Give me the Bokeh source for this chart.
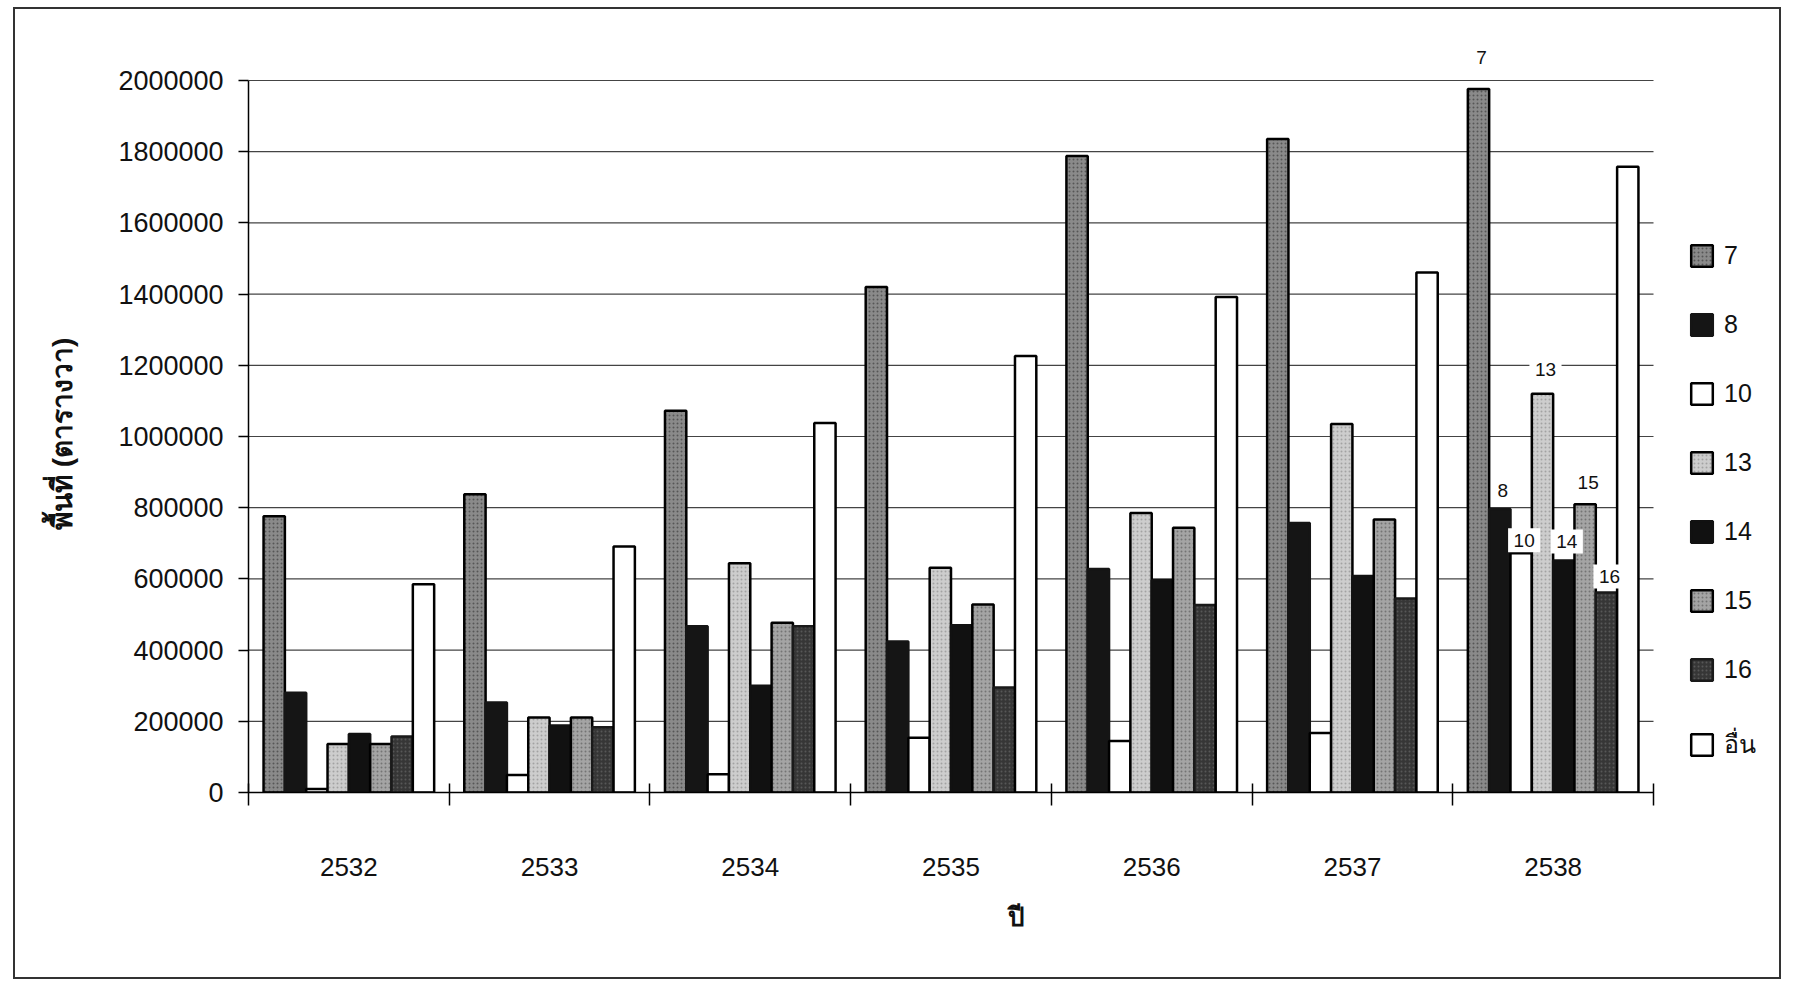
import numpy as np
from bokeh.plotting import figure
from bokeh.models import (ColumnDataSource, Range1d, FixedTicker, Legend,
                          LegendItem, LabelSet)
from bokeh.core.properties import value
from bokeh.transform import dodge
from bokeh.embed import file_html
from bokeh.resources import INLINE

# ---------------- data ----------------
years = ["2532", "2533", "2534", "2535", "2536", "2537", "2538"]
series = ["7", "8", "10", "13", "14", "15", "16", "อื่น"]

s7 = [776000, 838000, 1072000, 1420000, 1788000, 1836000, 1976000]
s8 = [280000, 253000, 467000, 424000, 628000, 757000, 796000]
s10 = [10000, 49000, 51000, 154000, 145000, 167000, 672000]
s13 = [136000, 211000, 644000, 631000, 785000, 1035000, 1120000]
s14 = [164000, 188000, 300000, 470000, 596000, 608000, 652000]
s15 = [136000, 211000, 477000, 528000, 744000, 767000, 810000]
s16 = [157000, 183000, 467000, 295000, 527000, 545000, 562000]
s_other = [585000, 691000, 1038000, 1226000, 1392000, 1461000, 1758000]

y_ticks = [0, 200000, 400000, 600000, 800000, 1000000, 1200000,
           1400000, 1600000, 1800000, 2000000]
labelled_year = "2538"  # only this group carries data labels

x_title = "ปี"
y_title = "พื้นที่ (ตารางวา)"

# ---------------- layout (pixels) ----------------
FONT = "Liberation Sans, Arial, sans-serif"
FIG_W, FIG_H = 1768, 972
ORIGIN_X, ORIGIN_Y = 15, 9            # canvas offset inside the page border
AX_L, AX_R, AX_T, AX_B = 248, 1653, 80, 792   # axis box in page pixels
FRAME_T = 28                          # frame extends above axis top for labels

y_max = y_ticks[-1]
x_lo, x_hi = -0.5, len(years) - 0.5
x_end = x_lo + (x_hi - x_lo) * (ORIGIN_X + FIG_W - AX_L) / (AX_R - AX_L)
y_end = y_max * (AX_B - FRAME_T) / (AX_B - AX_T)

values = [s7, s8, s10, s13, s14, s15, s16, s_other]
styles = [
    dict(fill_color="#8a8a8a", line_color="black", hatch_pattern="dot", hatch_color="#333333", hatch_scale=4, hatch_alpha=0.6),
    dict(fill_color="#151515", line_color="#151515"),
    dict(fill_color="white", line_color="black"),
    dict(fill_color="#cdcdcd", line_color="black", hatch_pattern="dot", hatch_color="#777777", hatch_scale=4, hatch_alpha=0.5),
    dict(fill_color="#111111", line_color="#111111"),
    dict(fill_color="#a4a4a4", line_color="black", hatch_pattern="dot", hatch_color="#444444", hatch_scale=4, hatch_alpha=0.5),
    dict(fill_color="#363636", line_color="#1a1a1a", hatch_pattern="dot", hatch_color="#777777", hatch_scale=4, hatch_alpha=0.5),
    dict(fill_color="white", line_color="black"),
]

n_series = len(series)
group_frac = 0.85
w = group_frac / n_series
xs = list(range(len(years)))

p = figure(width=FIG_W, height=FIG_H,
           x_range=Range1d(x_lo, x_end),
           y_range=Range1d(0, y_end),
           output_backend="svg", toolbar_location=None,
           min_border_left=AX_L - ORIGIN_X, min_border_right=0,
           min_border_top=FRAME_T - ORIGIN_Y,
           min_border_bottom=ORIGIN_Y + FIG_H - AX_B)
p.styles = {"margin-left": "13px", "margin-top": "7px",
            "border": "2px solid #333333"}
p.outline_line_color = None
p.background_fill_color = "white"
p.border_fill_color = "white"

# horizontal grid lines, limited to the category span
grid_src = ColumnDataSource(dict(y=y_ticks, x0=[x_lo] * len(y_ticks),
                                 x1=[x_hi] * len(y_ticks)))
p.segment(x0="x0", x1="x1", y0="y", y1="y", source=grid_src,
          line_color="#444444", line_width=1.2)

items = []
for i, (name, vals, st) in enumerate(zip(series, values, styles)):
    src = ColumnDataSource(dict(x=xs, top=vals))
    r = p.vbar(x=dodge("x", (i - (n_series - 1) / 2) * w, range=p.x_range),
               top="top", width=w, bottom=0, source=src,
               line_width=2.5, **st)
    items.append(LegendItem(label=name, renderers=[r]))

# data labels for the last group
yi = years.index(labelled_year)
lab_src = ColumnDataSource(dict(
    x=[yi + (i - (n_series - 1) / 2) * w for i in range(n_series - 1)],
    y=[values[i][yi] for i in range(n_series - 1)],
    text=series[:n_series - 1],
    off=[32, 19, 13, 24, 19, 22, 16],
))
labels = LabelSet(x="x", y="y", text="text", y_offset="off", x_offset=3,
                  source=lab_src,
                  text_align="center", text_baseline="middle",
                  text_font=value(FONT), text_font_size="19px",
                  text_color="#111111",
                  background_fill_color="white",
                  border_line_color="white", border_line_width=11,
                  border_line_join="miter")
p.add_layout(labels)

legend = Legend(items=items,
                location=(1688 - AX_L, AX_B - 764),
                glyph_width=27, glyph_height=27, label_height=27,
                spacing=40, padding=0, margin=0, label_standoff=9,
                label_text_font=FONT, label_text_font_size="25px",
                label_text_color="#111111",
                background_fill_alpha=0, border_line_color=None)
p.add_layout(legend)

# x axis
xa = p.xaxis[0]
xa.bounds = (x_lo, x_hi)
xa.ticker = FixedTicker(ticks=xs, minor_ticks=[v - 0.5 for v in xs] + [xs[-1] + 0.5])
xa.major_label_overrides = {x: y for x, y in zip(xs, years)}
xa.major_tick_in = 0
xa.major_tick_out = 0
xa.minor_tick_in = 9
xa.minor_tick_out = 13
xa.minor_tick_line_color = "black"
xa.minor_tick_line_width = 1.5
xa.axis_line_color = "black"
xa.axis_line_width = 1.5
xa.major_label_text_font = FONT
xa.major_label_text_font_size = "26px"
xa.major_label_text_color = "#111111"
xa.major_label_standoff = 52
xa.axis_label = x_title
xa.axis_label_text_font = FONT
xa.axis_label_text_font_style = "bold"
xa.axis_label_text_font_size = "26px"
xa.axis_label_text_color = "#111111"
xa.axis_label_standoff = 23

# y axis
ya = p.yaxis[0]
ya.bounds = (0, y_max)
ya.ticker = FixedTicker(ticks=y_ticks)
ya.major_label_overrides = {v: str(v) for v in y_ticks}
ya.major_tick_in = 0
ya.major_tick_out = 10
ya.major_tick_line_color = "black"
ya.major_tick_line_width = 1.5
ya.minor_tick_line_color = None
ya.axis_line_color = "black"
ya.axis_line_width = 1.5
ya.major_label_text_font = FONT
ya.major_label_text_font_size = "27px"
ya.major_label_text_color = "#111111"
ya.major_label_standoff = 15
# non-breaking spaces at the (upper) end nudge the rotated title down
ya.axis_label = y_title + "\u00a0" * 6
ya.axis_label_text_font = FONT
ya.axis_label_text_font_style = "bold"
ya.axis_label_text_font_size = "28px"
ya.axis_label_text_color = "#111111"
ya.axis_label_standoff = 37

p.xgrid.visible = False
p.ygrid.visible = False

open("out.html", "w").write(file_html(p, INLINE))
